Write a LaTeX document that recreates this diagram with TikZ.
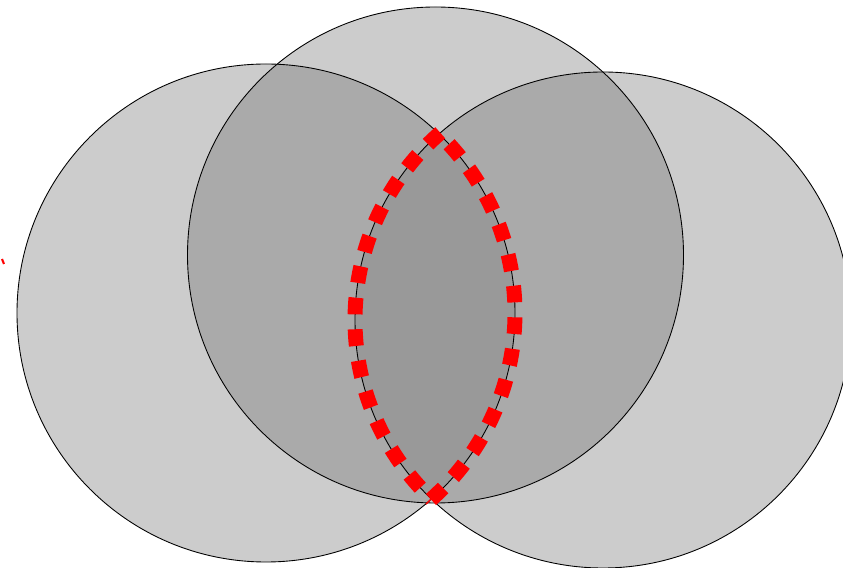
\documentclass[tikz,border=0pt]{standalone}
\usetikzlibrary{calc}
\definecolor{oneover}{HTML}{CCCCCC}
\definecolor{twoover}{HTML}{AAAAAA}
\definecolor{threeover}{HTML}{999999}
\tikzset{
  disc/.style={draw=black, line width=0.5pt},
  lensedge/.style={draw=red, line width=8.5pt, dash pattern=on 9.5pt off 8.5pt}
}
\begin{document}
\begin{tikzpicture}[x=0.02cm,y=0.02cm]
        \useasboundingbox (0,0) rectangle (843,568);
        % centres of the three circles
        \coordinate (cl) at (266,255);
        \coordinate (ct) at (435.5,313);
        \coordinate (cr) at (603,248);
        % single cover
        \fill[oneover] (cl) circle (249);
        \fill[oneover] (ct) circle (248);
        \fill[oneover] (cr) circle (248);
        % double cover
        \begin{scope}
            \clip (cl) circle (249);
            \fill[twoover] (ct) circle (248);
            \fill[twoover] (cr) circle (248);
        \end{scope}
        \begin{scope}
            \clip (ct) circle (248);
            \fill[twoover] (cr) circle (248);
        \end{scope}
        % triple cover
        \begin{scope}
            \clip (cl) circle (249);
            \clip (ct) circle (248);
            \fill[threeover] (cr) circle (248);
        \end{scope}
        % outlines
        \draw[disc] (cl) circle (249);
        \draw[disc] (ct) circle (248);
        \draw[disc] (cr) circle (248);
        % lens between left and right circle
        \draw[lensedge] ($(cr)+(131:248)$) arc (131:226.3:248);
        \draw[lensedge] ($(cl)+(-48.5:249)$) arc (-48.5:45.8:249);
        \draw[red, line width=1.2pt] (2,309) -- (4,304);
    \end{tikzpicture}
\end{document}
